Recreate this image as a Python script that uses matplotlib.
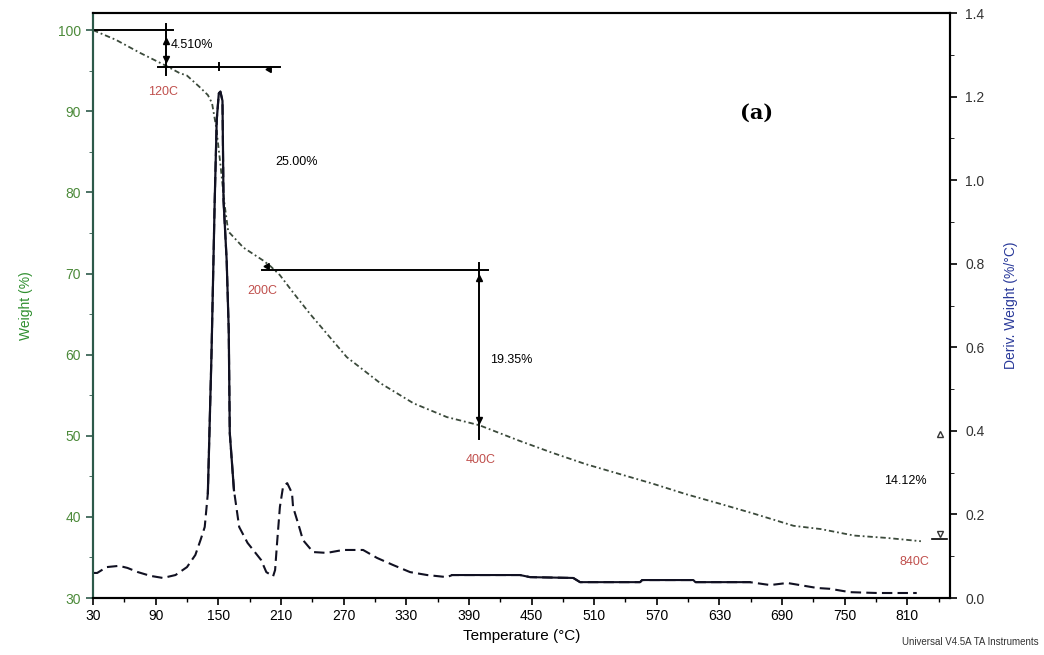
import numpy as np
import matplotlib.pyplot as plt
from matplotlib.ticker import MultipleLocator, FormatStrFormatter

plt.rcParams['font.family'] = ['Liberation Sans', 'DejaVu Sans']

# weight curve (%)
temp_w = [30, 52, 75, 100, 113, 120, 132, 140, 144, 148, 152, 156, 159.5, 174, 193, 200,
          209, 222, 238, 273, 305, 337, 369, 400, 438, 470, 502, 534, 566, 598, 631,
          663, 701, 727, 759, 791, 823]
weight = [100, 98.8, 97.2, 95.6, 94.7, 94.4, 93.0, 92.0, 91.0, 88.0, 83.5, 78.5, 75.2, 73.2,
          71.6, 70.9, 69.8, 67.6, 65.0, 59.7, 56.5, 54.0, 52.3, 51.3, 49.4, 47.9, 46.5,
          45.3, 44.1, 42.8, 41.6, 40.4, 38.9, 38.5, 37.7, 37.4, 37.0]

# derivative weight curve (%/°C)
temp_d = [30, 34, 43, 55, 63, 73, 85, 97, 109, 120, 128, 133, 137, 140, 143.5, 146.5,
          148.5, 150.5, 152, 154, 155, 158, 160, 161, 165, 170, 178, 191, 196, 202.5,
          204.4, 206.3, 209, 212, 216, 220.6, 221.6, 225.4, 228.3, 231, 240.8, 254,
          269.5, 288.7, 302, 317.4, 333.7, 350, 369, 374, 439, 448.6, 490, 496.5, 554,
          556, 605, 607, 659, 678.6, 695, 707, 723.6, 736, 755, 781, 819]
deriv = [0.060, 0.060, 0.074, 0.077, 0.072, 0.062, 0.053, 0.048, 0.055, 0.074, 0.103,
         0.139, 0.170, 0.251, 0.586, 0.945, 1.144, 1.208, 1.212, 1.190, 0.952, 0.809,
         0.641, 0.395, 0.258, 0.170, 0.132, 0.091, 0.062, 0.052, 0.067, 0.132, 0.218,
         0.266, 0.275, 0.251, 0.218, 0.187, 0.163, 0.139, 0.110, 0.108, 0.115, 0.115,
         0.096, 0.079, 0.062, 0.055, 0.050, 0.055, 0.055, 0.050, 0.048, 0.038, 0.038,
         0.043, 0.043, 0.038, 0.038, 0.031, 0.036, 0.031, 0.024, 0.022, 0.014, 0.012,
         0.012]

# step analysis
step_temps = [100, 200, 400, 840]
step_labels = ['120C', '200C', '400C', '840C']
losses = [4.510, 25.00, 19.35, 14.12]
loss_labels = ['4.510%', '25.00%', '19.35%', '14.12%']
levels = [100.0]
for l in losses:
    levels.append(levels[-1] - l)

temp_d = np.array(temp_d)
deriv = np.array(deriv)

fig = plt.figure(figsize=(10.44, 6.55), dpi=100)
ax1 = fig.add_axes([0.0891, 0.087, 0.821, 0.893])
ax2 = ax1.twinx()

wcol = '#3b4a3b'
ax1.plot(temp_w, weight, color=wcol, lw=1.3, ls=(0, (3, 1.6, 1, 1.6)))

# derivative: dashed in flat parts, looks solid on the peak and mid tail
ax2.plot(temp_d, deriv, color='#111122', lw=1.5, ls=(0, (5, 2.5)))
solid = (temp_d >= 139) & (temp_d <= 166)
ax2.plot(temp_d[solid], deriv[solid], color='#111122', lw=1.6)
tail = (temp_d >= 374) & (temp_d <= 659)
ax2.plot(temp_d[tail], deriv[tail], color='#111122', lw=1.5)

ax1.set_xlim(30, 851)
ax1.set_ylim(30, 102.1)
ax2.set_ylim(0, 1.4)

# bracket 1
k = dict(color='black', lw=1.4)
ax1.plot([30, 107], [levels[0], levels[0]], **k)
ax1.plot([step_temps[0], step_temps[0]], [levels[0] + 0.7, levels[1] - 1.0], **k)
ax1.plot([92, 209], [levels[1], levels[1]], **k)
ax1.plot([151, 151], [levels[1] - 0.4, levels[1] + 0.4], **k)
ax1.plot(step_temps[0], levels[0] - 1.3, marker='^', ms=4, color='black')
ax1.plot(step_temps[0], levels[1] + 1.0, marker='v', ms=4, color='black')
ax1.plot(199, levels[1] - 0.3, marker=(3, 0, -30), ms=5, color='black')

# bracket 2
ax1.plot([192, 408], [levels[2], levels[2]], **k)
ax1.plot([step_temps[2], step_temps[2]], [levels[2] + 0.8, levels[3] - 1.5], **k)
ax1.plot(step_temps[2], levels[2] - 1.0, marker='^', ms=4, color='black')
ax1.plot(step_temps[2], levels[3] + 0.8, marker='v', ms=4, color='black')
ax1.plot(197, levels[2] + 0.4, marker=(3, 0, -30), ms=5, color='black')

# bracket 3
ax1.plot(841, levels[3] - 0.9, marker='^', ms=5, mfc='none', color='#333333', mew=1)
ax1.plot(841, levels[4] + 0.9, marker='v', ms=5, mfc='none', color='#333333', mew=1)
ax1.plot([834, 848], [levels[4] + 0.2, levels[4] + 0.2], color='black', lw=1.2)

red = '#c0504d'
fs = 9
ax1.text(104.5, 98.15, loss_labels[0], fontsize=fs, va='center', ha='left')
ax1.text(97, 92.4, step_labels[0], fontsize=fs, color=red, ha='center', va='center')
ax1.text(225, 83.7, loss_labels[1], fontsize=fs, ha='center', va='center')
ax1.text(192, 67.9, step_labels[1], fontsize=fs, color=red, ha='center', va='center')
ax1.text(431, 59.3, loss_labels[2], fontsize=fs, ha='center', va='center')
ax1.text(401, 47.0, step_labels[2], fontsize=fs, color=red, ha='center', va='center')
ax1.text(808, 44.4, loss_labels[3], fontsize=fs, ha='center', va='center')
ax1.text(817, 34.4, step_labels[3], fontsize=fs, color=red, ha='center', va='center')
ax1.text(666, 89.8, '(a)', fontsize=15, fontweight='bold', family='DejaVu Serif',
         ha='center', va='center')

# axes styling
ax1.set_xticks(np.arange(30, 811, 60))
ax1.xaxis.set_minor_locator(MultipleLocator(30))
ax1.set_yticks(np.arange(30, 101, 10))
ax1.yaxis.set_minor_locator(MultipleLocator(5))
ax2.set_yticks(np.arange(0, 1.41, 0.2))
ax2.yaxis.set_minor_locator(MultipleLocator(0.1))
ax2.yaxis.set_major_formatter(FormatStrFormatter('%.1f'))

ax1.tick_params(axis='x', direction='out', length=5, width=1.2, labelsize=10, pad=3)
ax1.tick_params(axis='x', which='minor', direction='out', length=3, width=1)
ax1.tick_params(axis='y', direction='out', length=5, width=1.2, labelsize=10,
                labelcolor='#4c8a3a', color='#2d5a4a')
ax1.tick_params(axis='y', which='minor', direction='out', length=3, color='#2d5a4a')
ax2.tick_params(axis='y', direction='out', length=5, width=1.2, labelsize=10,
                labelcolor='#333333', pad=6)
ax2.tick_params(axis='y', which='minor', direction='out', length=3)

for ax in (ax1, ax2):
    for s in ax.spines.values():
        s.set_linewidth(1.5)
ax2.spines['left'].set_color('#2d5a4a')
ax1.spines['left'].set_color('#2d5a4a')

ax1.set_xlabel('Temperature (°C)', fontsize=11, labelpad=4)
ax1.set_ylabel('Weight (%)', fontsize=10, color='#2f8f2f', labelpad=18)
ax2.set_ylabel('Deriv. Weight (%/°C)', fontsize=10, color='#2a3a9a', labelpad=14)

fig.text(0.995, 0.02, 'Universal V4.5A TA Instruments', fontsize=7, ha='right',
         va='center', color='#333333')

fig.savefig('out.png', dpi=100)
